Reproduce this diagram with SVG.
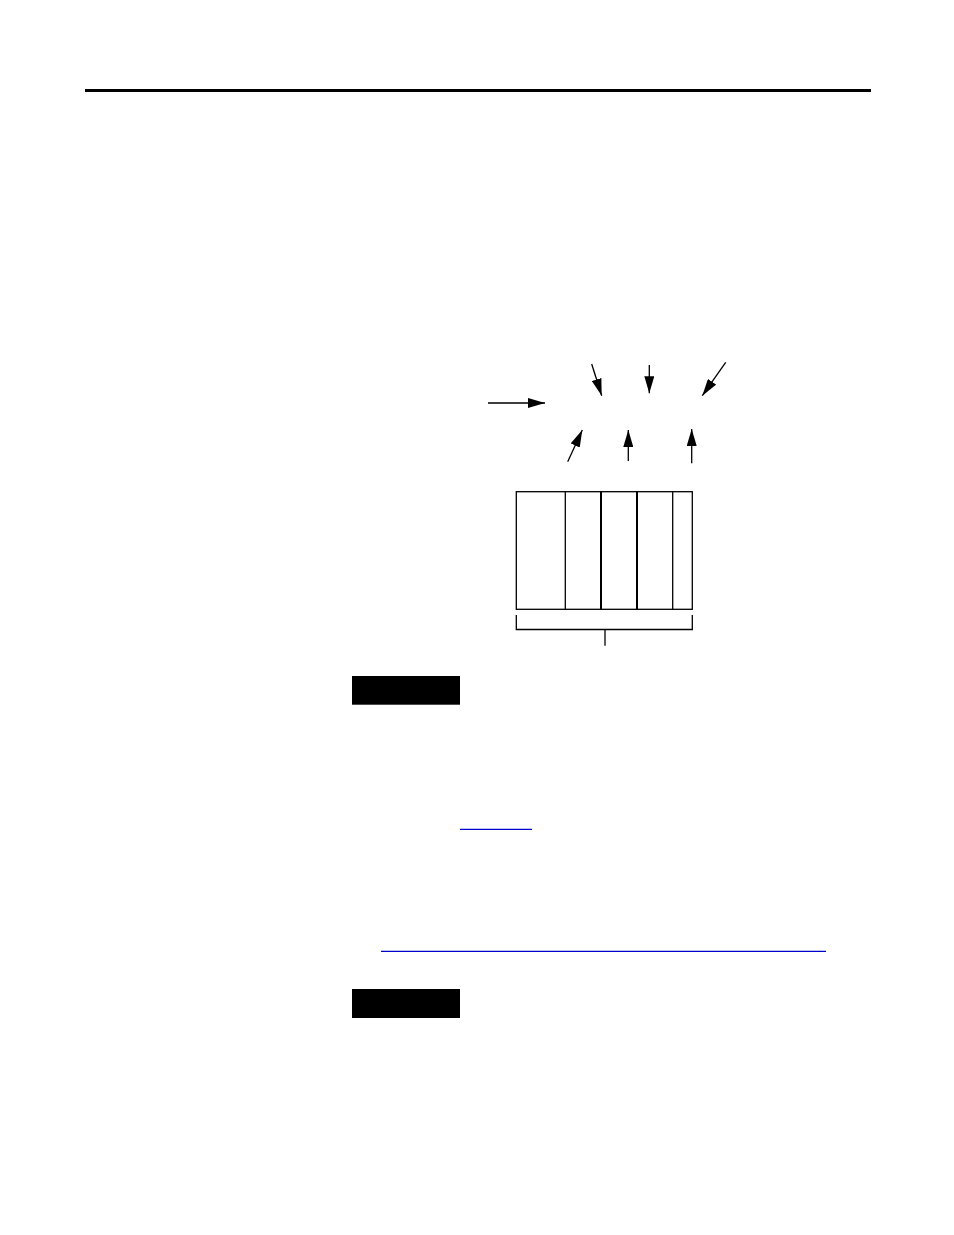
<svg xmlns="http://www.w3.org/2000/svg" width="954" height="1235" viewBox="0 0 954 1235">
<style>
.ln{stroke:#000;stroke-width:1.3;fill:none}
.box{stroke:#000;stroke-width:1.3;fill:#fff}
.div{stroke:#000;stroke-width:1.3}
.thk{stroke:#000;stroke-width:2}
.blue{stroke:#0000cc;stroke-width:1.3}
</style>
<defs>
<marker id="ah" markerWidth="17" markerHeight="10" refX="17" refY="5" orient="auto" markerUnits="userSpaceOnUse">
<path d="M0,0 L17,5 L0,10 Z" fill="#000"/>
</marker>
</defs>
<rect width="954" height="1235" fill="#fff"/>
<line x1="85" y1="90.5" x2="871" y2="90.5" stroke="#000" stroke-width="3"/>
<g id="connectors">
<line class="ln" x1="488" y1="403" x2="545" y2="403" marker-end="url(#ah)"/>
<line class="ln" x1="591.7" y1="364" x2="601.7" y2="395.7" marker-end="url(#ah)"/>
<line class="ln" x1="649.3" y1="365" x2="649.3" y2="393.3" marker-end="url(#ah)"/>
<line class="ln" x1="725.7" y1="362.3" x2="702.3" y2="395.7" marker-end="url(#ah)"/>
<line class="ln" x1="567.7" y1="461.7" x2="582.3" y2="430" marker-end="url(#ah)"/>
<line class="ln" x1="628.3" y1="461" x2="628.3" y2="430" marker-end="url(#ah)"/>
<line class="ln" x1="691.7" y1="463.3" x2="691.7" y2="429" marker-end="url(#ah)"/>
</g>
<g id="chassis">
<rect class="box" x="516.3" y="491.7" width="176" height="117.6"/>
<line class="div" x1="565.3" y1="491.7" x2="565.3" y2="609.3"/>
<line class="thk" x1="601" y1="491.7" x2="601" y2="609.3"/>
<line class="thk" x1="637" y1="491.7" x2="637" y2="609.3"/>
<line class="div" x1="672.7" y1="491.7" x2="672.7" y2="609.3"/>
</g>
<g id="bracket">
<path class="ln" d="M516.3,615 V629.5 H692.3 V615"/>
<line class="ln" x1="605" y1="629.5" x2="605" y2="645.7"/>
</g>
<g id="label1"><rect x="352" y="676" width="108" height="28.7" fill="#000"/></g>
<line class="blue" x1="460" y1="829.3" x2="532" y2="829.3"/>
<line class="blue" x1="381" y1="951.3" x2="826" y2="951.3"/>
<g id="label2"><rect x="352" y="989" width="108" height="29" fill="#000"/></g>
</svg>
